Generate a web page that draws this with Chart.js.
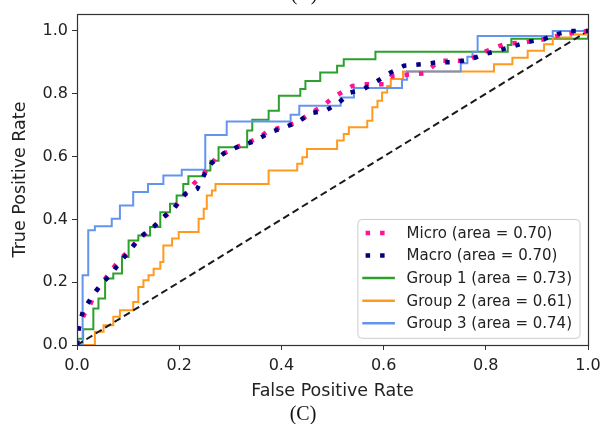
<!DOCTYPE html>
<html lang="en">
<head>
    <meta charset="UTF-8">
    <title>ROC curves (C)</title>
    <script src="https://cdn.jsdelivr.net/npm/chart.js"></script>
    <style>
        html, body { margin: 0; padding: 0; background: #fff; }
        #wrap { width: 601px; height: 424px; }
    </style>
</head>
<body>
    <div id="wrap"><canvas id="rocChart" width="601" height="424"></canvas></div>

    <script>
        // tick positions
        const xTickValues = [0, 0.2, 0.4, 0.6, 0.8, 1.0];
        const yTickValues = [0, 0.2, 0.4, 0.6, 0.8, 1.0];

        // averaged curves
        const microFpr = [0, 0.002, 0.006, 0.015, 0.025, 0.035, 0.058, 0.075, 0.1, 0.12, 0.146, 0.169, 0.189, 0.199, 0.228, 0.248, 0.274, 0.313, 0.356, 0.375, 0.401, 0.431, 0.454, 0.48, 0.503, 0.539, 0.561, 0.6, 0.614, 0.64, 0.68, 0.709, 0.75, 0.77, 0.8, 0.836, 0.88, 0.92, 0.95, 1.0];
        const microTpr = [0, 0.04, 0.07, 0.1, 0.125, 0.165, 0.217, 0.254, 0.3, 0.336, 0.37, 0.405, 0.432, 0.455, 0.513, 0.545, 0.6, 0.63, 0.66, 0.683, 0.693, 0.709, 0.735, 0.76, 0.79, 0.825, 0.83, 0.83, 0.855, 0.86, 0.865, 0.905, 0.905, 0.91, 0.935, 0.958, 0.965, 0.975, 0.99, 1.0];
        const macroFpr = [0, 0.004, 0.012, 0.029, 0.045, 0.068, 0.084, 0.104, 0.124, 0.15, 0.169, 0.189, 0.212, 0.235, 0.25, 0.264, 0.287, 0.313, 0.346, 0.378, 0.401, 0.431, 0.457, 0.486, 0.509, 0.535, 0.561, 0.588, 0.614, 0.64, 0.673, 0.705, 0.738, 0.771, 0.797, 0.823, 0.855, 0.885, 0.914, 0.94, 0.967, 1.0];
        const macroTpr = [0, 0.06, 0.11, 0.153, 0.19, 0.228, 0.264, 0.302, 0.344, 0.376, 0.407, 0.434, 0.481, 0.497, 0.545, 0.58, 0.61, 0.63, 0.648, 0.677, 0.69, 0.709, 0.738, 0.746, 0.767, 0.804, 0.815, 0.841, 0.868, 0.889, 0.894, 0.9, 0.9, 0.91, 0.926, 0.937, 0.952, 0.966, 0.974, 0.99, 1.0, 1.0];

        // per-group staircases: each point = end of the horizontal run at that tpr
        const group1Fpr = [0, 0.012, 0.032, 0.042, 0.055, 0.071, 0.088, 0.101, 0.12, 0.143, 0.163, 0.182, 0.195, 0.208, 0.218, 0.248, 0.261, 0.277, 0.333, 0.343, 0.375, 0.395, 0.437, 0.447, 0.476, 0.509, 0.522, 0.584, 0.843, 0.85, 1.0, 1.0];
        const group1Tpr = [0, 0.02, 0.05, 0.116, 0.148, 0.212, 0.228, 0.28, 0.333, 0.349, 0.376, 0.423, 0.45, 0.476, 0.513, 0.537, 0.556, 0.587, 0.63, 0.683, 0.717, 0.746, 0.794, 0.815, 0.841, 0.868, 0.889, 0.91, 0.934, 0.955, 0.975, 1.0];
        const group2Fpr = [0, 0.035, 0.052, 0.071, 0.084, 0.11, 0.12, 0.13, 0.14, 0.15, 0.163, 0.169, 0.186, 0.199, 0.238, 0.248, 0.254, 0.264, 0.271, 0.375, 0.431, 0.441, 0.45, 0.509, 0.522, 0.532, 0.568, 0.578, 0.588, 0.597, 0.607, 0.614, 0.638, 0.816, 0.852, 0.882, 0.914, 0.931, 0.967, 1.0, 1.0];
        const group2Tpr = [0, 0, 0.042, 0.063, 0.09, 0.111, 0.137, 0.185, 0.206, 0.222, 0.243, 0.264, 0.317, 0.339, 0.36, 0.402, 0.434, 0.476, 0.492, 0.513, 0.556, 0.577, 0.598, 0.624, 0.651, 0.672, 0.693, 0.714, 0.757, 0.778, 0.804, 0.825, 0.847, 0.871, 0.894, 0.915, 0.937, 0.958, 0.979, 0.989, 1.0];
        const group3Fpr = [0, 0.011, 0.022, 0.035, 0.068, 0.084, 0.11, 0.139, 0.169, 0.205, 0.251, 0.293, 0.418, 0.435, 0.516, 0.542, 0.636, 0.646, 0.751, 0.764, 0.774, 0.784, 0.931, 1.0];
        const group3Tpr = [0, 0, 0.222, 0.365, 0.378, 0.402, 0.444, 0.487, 0.513, 0.54, 0.558, 0.669, 0.712, 0.733, 0.762, 0.788, 0.818, 0.845, 0.871, 0.897, 0.918, 0.934, 0.984, 1.0];

        const chanceFpr = [0, 1];
        const chanceTpr = [0, 1];

        const seriesLabels = ['Micro (area = 0.70)', 'Macro (area = 0.70)', 'Group 1 (area = 0.73)', 'Group 2 (area = 0.61)', 'Group 3 (area = 0.74)'];

        function toPoints(xs, ys) {
            return xs.map((x, i) => ({ x: x, y: ys[i] }));
        }

        Chart.defaults.font.family = "'DejaVu Sans', sans-serif";
        Chart.defaults.color = '#222';

        // matplotlib-like legend in the lower right corner of the plot
        const innerLegend = {
            id: 'innerLegend',
            afterDraw(chart) {
                const ctx = chart.ctx;
                const area = chart.chartArea;
                const items = chart.data.datasets.filter(d => d.label);
                ctx.save();
                ctx.font = "15px 'DejaVu Sans', sans-serif";
                const textW = Math.max(...items.map(d => ctx.measureText(d.label).width));
                const rowH = 22.6;
                const boxW = 48.7 + textW + 8;
                const boxH = 13.4 + rowH * (items.length - 1) + 15;
                const left = area.right - 8 - boxW;
                const top = area.bottom - 6.7 - boxH;

                ctx.beginPath();
                ctx.roundRect(left, top, boxW, boxH, 4);
                ctx.fillStyle = 'rgba(255,255,255,0.85)';
                ctx.fill();
                ctx.strokeStyle = '#cccccc';
                ctx.lineWidth = 1;
                ctx.stroke();

                items.forEach((d, i) => {
                    const y = top + 13.4 + i * rowH;
                    ctx.strokeStyle = d.borderColor;
                    ctx.lineWidth = d.borderDash ? d.borderWidth : 2.5;
                    ctx.lineCap = 'butt';
                    ctx.setLineDash(d.borderDash || []);
                    ctx.beginPath();
                    if (d.borderDash) {
                        ctx.moveTo(left + 7.7, y);
                        ctx.lineTo(left + 27, y);
                    } else {
                        ctx.moveTo(left + 4.4, y);
                        ctx.lineTo(left + 37, y);
                    }
                    ctx.stroke();
                    ctx.setLineDash([]);
                    ctx.fillStyle = '#222';
                    ctx.textBaseline = 'middle';
                    ctx.textAlign = 'left';
                    ctx.fillText(d.label, left + 48.7, y + 1);
                });
                ctx.restore();
            }
        };

        // four spines plus the panel captions
        const frameAndCaption = {
            id: 'frameAndCaption',
            afterDraw(chart) {
                const ctx = chart.ctx;
                const a = chart.chartArea;
                ctx.save();
                ctx.strokeStyle = '#333';
                ctx.lineWidth = 1.2;
                ctx.strokeRect(Math.round(a.left) + 0.5, Math.round(a.top) + 0.5,
                    Math.round(a.right - a.left), Math.round(a.bottom - a.top));
                ctx.fillStyle = '#111';
                ctx.font = "20px 'Liberation Serif', 'Times New Roman', serif";
                ctx.textAlign = 'center';
                ctx.textBaseline = 'alphabetic';
                ctx.fillText('(C)', 303, 420);
                ctx.fillText('(B)', 304, -0.5);
                ctx.restore();
            }
        };

        new Chart(document.getElementById('rocChart'), {
            type: 'line',
            data: {
                datasets: [
                    {
                        label: seriesLabels[0],
                        data: toPoints(microFpr, microTpr),
                        borderColor: '#ff1493',
                        borderWidth: 4.5,
                        borderDash: [4.5, 10],
                        borderCapStyle: 'butt',
                        order: 1
                    },
                    {
                        label: seriesLabels[1],
                        data: toPoints(macroFpr, macroTpr),
                        borderColor: '#000080',
                        borderWidth: 4.5,
                        borderDash: [4.5, 10],
                        borderCapStyle: 'butt',
                        order: 0
                    },
                    {
                        label: seriesLabels[2],
                        data: toPoints(group1Fpr, group1Tpr),
                        borderColor: '#2ca02c',
                        borderWidth: 2,
                        stepped: 'after',
                        order: 5
                    },
                    {
                        label: seriesLabels[3],
                        data: toPoints(group2Fpr, group2Tpr),
                        borderColor: '#ff9a1f',
                        borderWidth: 2,
                        stepped: 'after',
                        order: 4
                    },
                    {
                        label: seriesLabels[4],
                        data: toPoints(group3Fpr, group3Tpr),
                        borderColor: '#6495ed',
                        borderWidth: 2,
                        stepped: 'after',
                        order: 3
                    },
                    {
                        label: '',
                        data: toPoints(chanceFpr, chanceTpr),
                        borderColor: '#1a1a1a',
                        borderWidth: 2,
                        borderDash: [7, 4],
                        order: 2
                    }
                ]
            },
            options: {
                responsive: false,
                devicePixelRatio: 1,
                animation: false,
                layout: { padding: { top: 14, right: 13, left: 0, bottom: 0 } },
                elements: { point: { radius: 0 }, line: { tension: 0, fill: false } },
                plugins: {
                    legend: { display: false },
                    tooltip: { enabled: false }
                },
                scales: {
                    x: {
                        type: 'linear',
                        min: 0,
                        max: 1,
                        afterBuildTicks: s => { s.ticks = xTickValues.map(v => ({ value: v })); },
                        afterFit: s => { s.height = 79; s.paddingLeft = 0; s.paddingRight = 0; },
                        ticks: {
                            callback: v => v.toFixed(1),
                            font: { size: 16 },
                            padding: 6,
                            maxRotation: 0,
                            autoSkip: false
                        },
                        grid: { display: true, drawOnChartArea: false, tickLength: 5, color: '#333' },
                        border: { display: false },
                        title: {
                            display: true,
                            text: 'False Positive Rate',
                            font: { size: 17.5 },
                            padding: { top: 0, bottom: 22.5 }
                        }
                    },
                    y: {
                        type: 'linear',
                        min: 0,
                        max: 1.054,
                        afterBuildTicks: s => { s.ticks = yTickValues.map(v => ({ value: v })); },
                        afterFit: s => { s.width = 77; s.paddingTop = 0; s.paddingBottom = 0; },
                        ticks: {
                            callback: v => v.toFixed(1),
                            font: { size: 16 },
                            padding: 4
                        },
                        grid: { display: true, drawOnChartArea: false, tickLength: 5, color: '#333' },
                        border: { display: false },
                        title: {
                            display: true,
                            text: 'True Positive Rate',
                            font: { size: 17.5 },
                            padding: { top: 9.5, bottom: 0 }
                        }
                    }
                }
            },
            plugins: [innerLegend, frameAndCaption]
        });
    </script>
</body>
</html>
